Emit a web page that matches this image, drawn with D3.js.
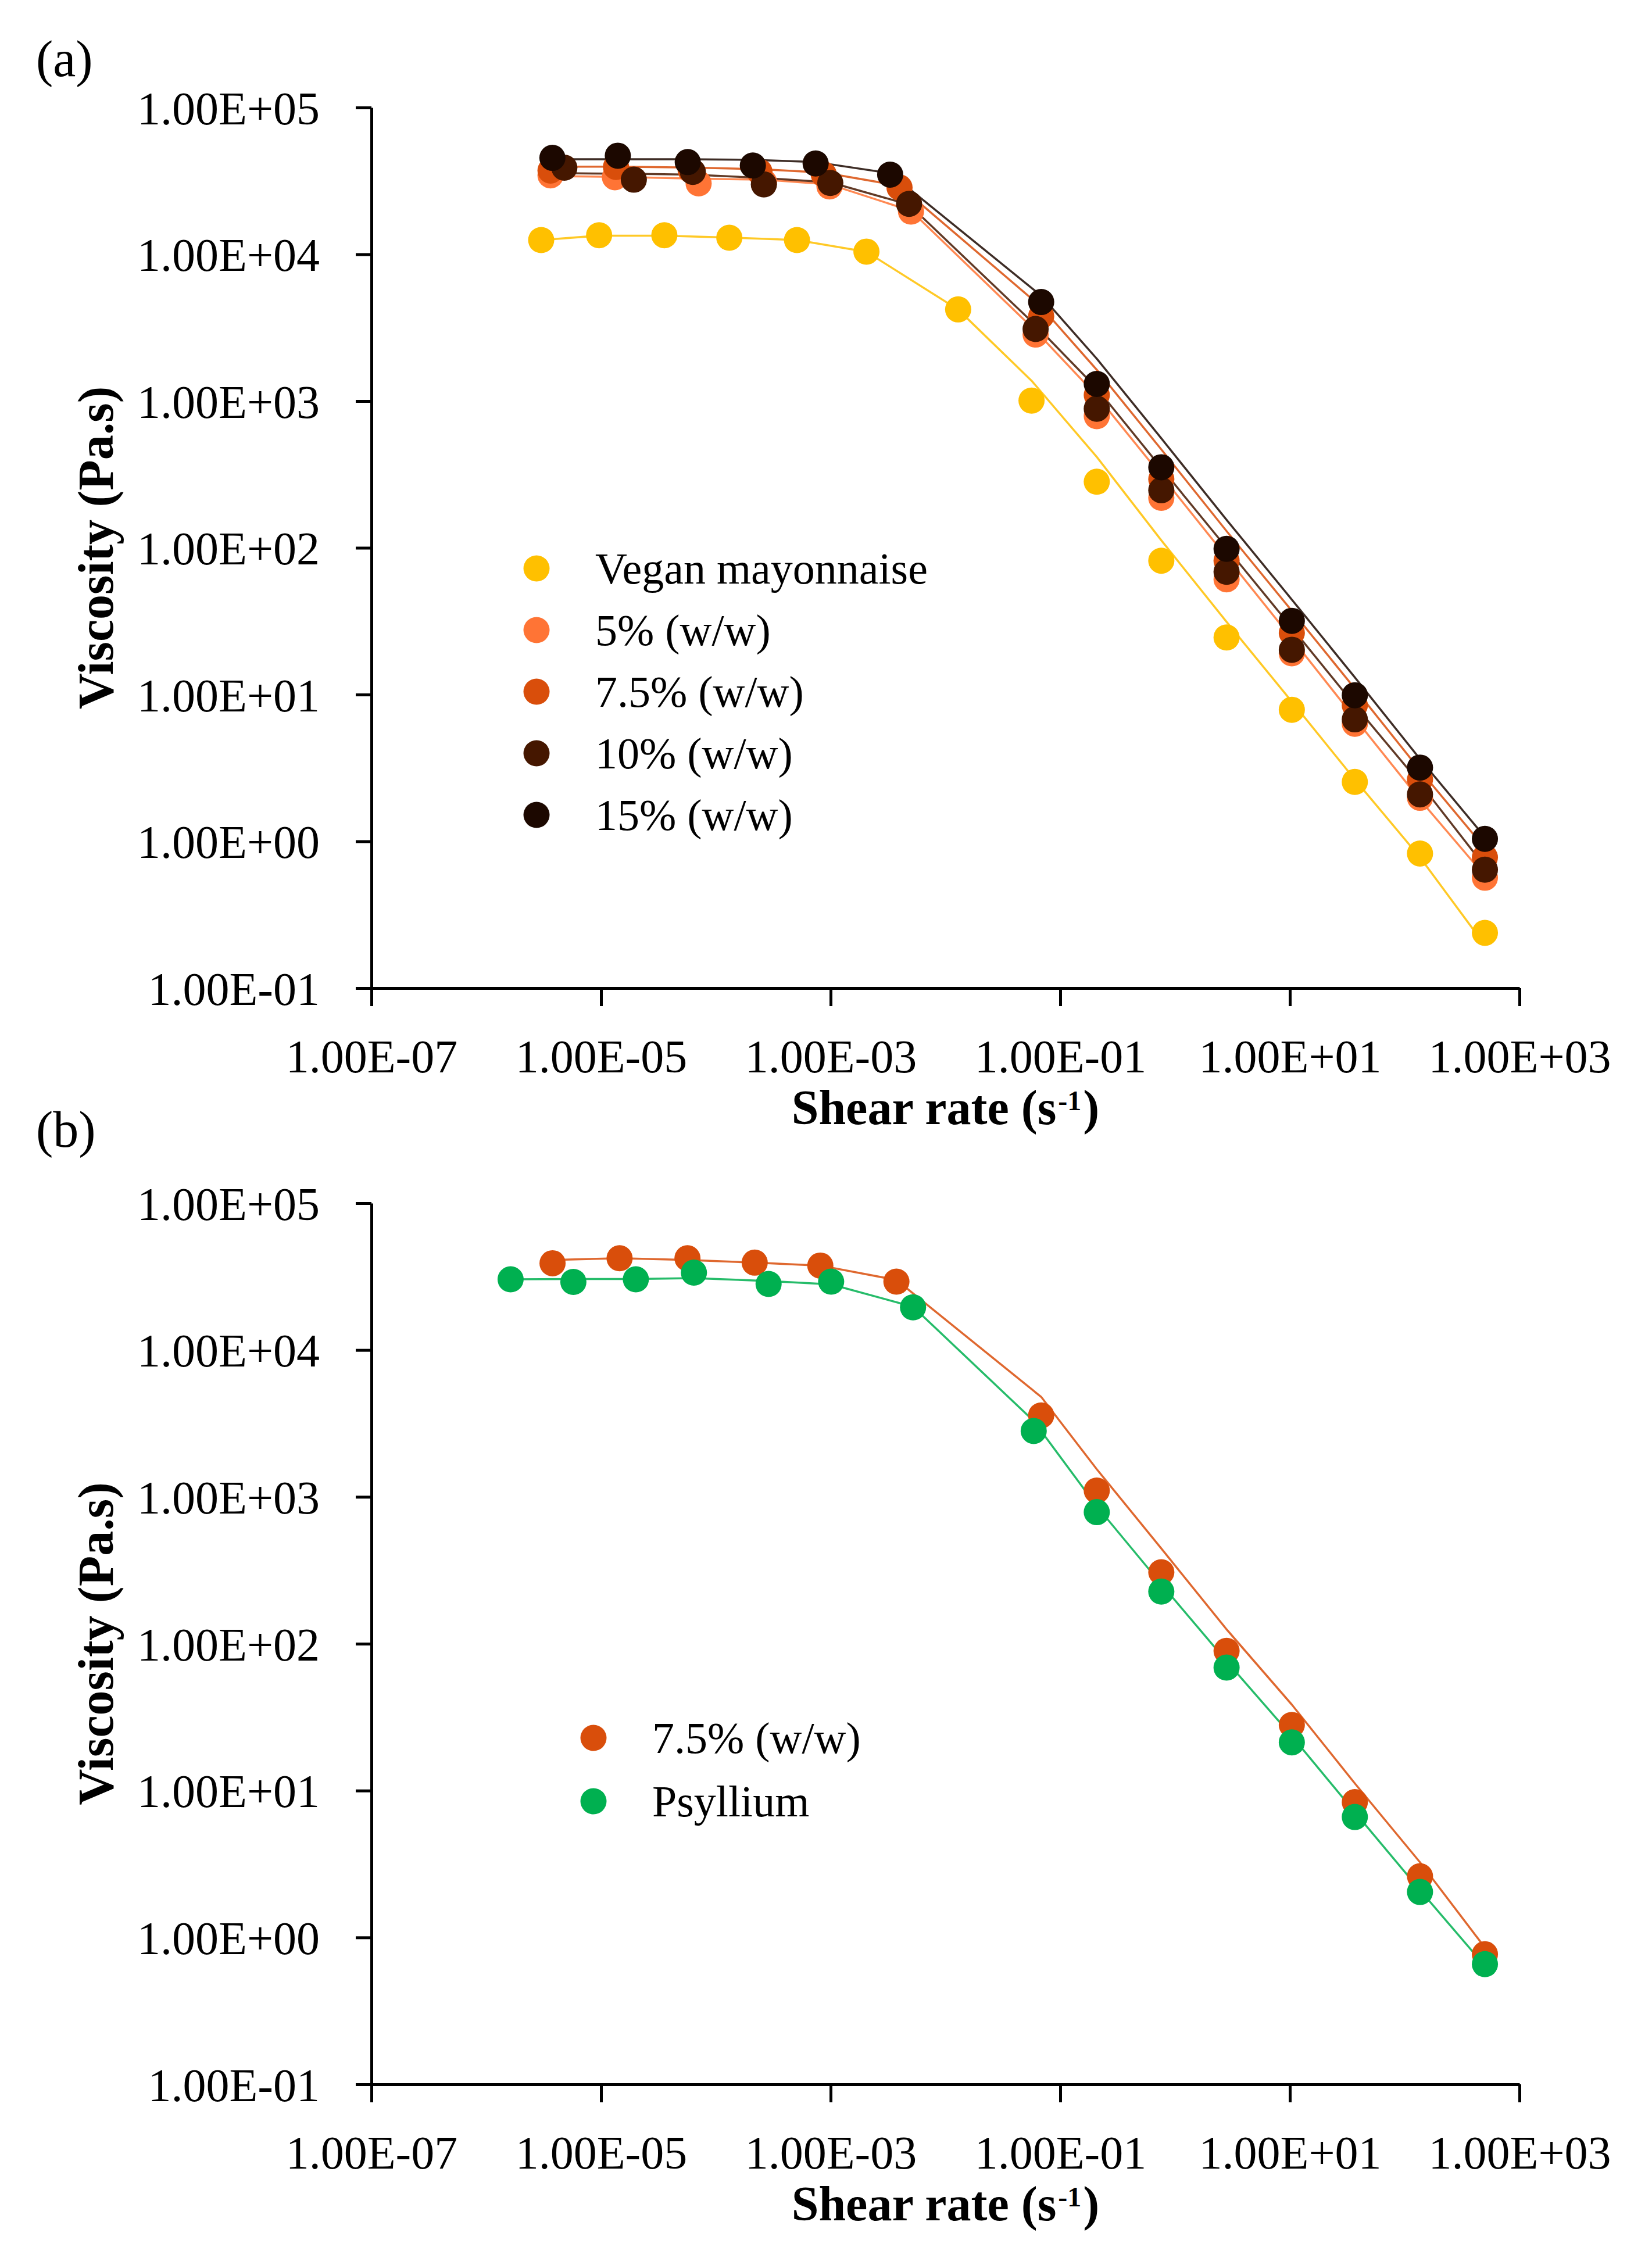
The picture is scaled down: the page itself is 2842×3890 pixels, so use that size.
<!DOCTYPE html>
<html>
<head>
<meta charset="utf-8">
<script src="https://cdn.jsdelivr.net/npm/d3@7/dist/d3.min.js"></script>
<style>
  html, body { margin: 0; padding: 0; background: #fff; }
  svg { display: block; }
  text { font-family: "Palatino Linotype", "Book Antiqua", Palatino, "Liberation Serif", serif; fill: #000; }
</style>
</head>
<body>
<div id="chart"></div>
<script>
// ---- tick values and labels (both panels share the same axes) ----
var xTicks = [1e-7, 1e-5, 1e-3, 1e-1, 1e1, 1e3];
var xTickLabels = ["1.00E-07", "1.00E-05", "1.00E-03", "1.00E-01", "1.00E+01", "1.00E+03"];
var yTicks = [1e-1, 1e0, 1e1, 1e2, 1e3, 1e4, 1e5];
var yTickLabels = ["1.00E-01", "1.00E+00", "1.00E+01", "1.00E+02", "1.00E+03", "1.00E+04", "1.00E+05"];

// ---- panel (a): vegan mayonnaise and the four concentrations ----
var shearVegan = [3.01e-6, 9.62e-6, 3.56e-5, 1.31e-4, 5.09e-4, 2.05e-3, 1.29e-2, 5.62e-2, 0.208, 0.759, 2.81, 10.4, 36.8, 136, 500];
var etaVegan = [12500, 13490, 13490, 12970, 12500, 10430, 4210, 1007, 282, 81.7, 24.5, 7.88, 2.54, 0.826, 0.238];
var fitVegan = [12500, 13400, 13400, 13000, 12500, 10400, 4200, 1377, 416, 112.5, 31.3, 8.96, 2.64, 0.778, 0.196];

var shear5 = [3.63e-6, 1.32e-5, 7.08e-5, 2.63e-4, 9.77e-4, 5.01e-3, 6.10e-2, 0.208, 0.759, 2.81, 10.4, 36.8, 136, 500];
var eta5 = [34500, 33500, 30400, 31000, 29000, 19550, 2838, 789, 219, 61, 19.1, 6.33, 1.98, 0.565];
var fit5 = [34100, 33700, 32700, 32300, 29950, 19800, 3006, 1087, 311, 86.5, 24.1, 6.90, 1.92, 0.582];

var shear75 = [3.63e-6, 1.35e-5, 6.03e-5, 2.40e-4, 8.71e-4, 3.98e-3, 6.82e-2, 0.208, 0.759, 2.81, 10.4, 36.8, 136, 500];
var eta75 = [37200, 39400, 37500, 36500, 35000, 28500, 3790, 1100, 294, 81.7, 26.3, 8.45, 2.64, 0.778];
var fit75 = [39500, 39500, 39000, 38000, 36000, 29300, 4385, 1633, 468, 130, 37.2, 11.0, 3.05, 0.90];

var shear10 = [4.79e-6, 1.93e-5, 6.30e-5, 2.62e-4, 9.93e-4, 4.82e-3, 6.10e-2, 0.208, 0.759, 2.81, 10.4, 36.8, 136, 500];
var eta10 = [38900, 32250, 36440, 29940, 30620, 22070, 3097, 887, 247, 68.6, 20.2, 6.78, 2.09, 0.641];
var fit10 = [35650, 35400, 34900, 33100, 30900, 21800, 3281, 1222, 350, 100, 28.6, 8.45, 2.49, 0.673];

var shear15 = [3.77e-6, 1.40e-5, 5.69e-5, 2.10e-4, 7.40e-4, 3.30e-3, 6.82e-2, 0.208, 0.759, 2.81, 10.4, 36.8, 136, 500];
var eta15 = [45400, 46950, 42490, 40290, 41560, 34900, 4730, 1309, 354, 98.4, 31.8, 9.89, 3.18, 1.04];
var fit15 = [44400, 44400, 44400, 43990, 42490, 35660, 5220, 1945, 557, 155, 44.4, 13.1, 3.64, 1.07];

// ---- panel (b): 7.5% against psyllium ----
var shearB75 = [3.78e-6, 1.45e-5, 5.66e-5, 2.18e-4, 8.13e-4, 3.74e-3, 6.82e-2, 0.208, 0.759, 2.81, 10.4, 36.8, 136, 500];
var etaB75 = [38970, 42150, 42150, 39350, 37580, 29220, 3587, 1103, 307, 89.4, 28.0, 8.34, 2.61, 0.769];
var fitB75 = [41050, 42150, 41050, 39350, 37580, 29980, 4797, 1543, 445, 125.3, 38.5, 11.2, 3.25, 0.853];

var shearPsy = [1.63e-6, 5.74e-6, 2.01e-5, 6.44e-5, 2.88e-4, 1.01e-3, 5.22e-3, 5.87e-2, 0.208, 0.759, 2.81, 10.4, 36.8, 136, 500];
var etaPsy = [30290, 29080, 30290, 33650, 28170, 29220, 19530, 2810, 787, 226.6, 68.8, 21.3, 6.61, 2.04, 0.658];
var fitPsy = [30290, 30460, 30460, 30830, 29510, 27990, 19710, 3289, 863, 254.5, 76.0, 23.5, 7.13, 2.10, 0.640];

(function () {
  "use strict";
  var W = 2842, H = 3890;
  var svg = d3.select("#chart").append("svg")
    .attr("width", W).attr("height", H).attr("viewBox", "0 0 " + W + " " + H);

  var C = { veg: "#FFC000", p5: "#FF7435", p75: "#D94E0B", p10: "#451700", p15: "#1C0800", psy: "#00B050" };

  var panels = [
    { label: "(a)", labelY: 131, top: 185, bottom: 1700,
      legend: { x: 923, y: 978, step: 106 },
      series: [
        { name: "Vegan mayonnaise", color: C.veg, x: shearVegan, y: etaVegan, fit: fitVegan },
        { name: "5% (w/w)", color: C.p5, x: shear5, y: eta5, fit: fit5 },
        { name: "7.5% (w/w)", color: C.p75, x: shear75, y: eta75, fit: fit75 },
        { name: "10% (w/w)", color: C.p10, x: shear10, y: eta10, fit: fit10 },
        { name: "15% (w/w)", color: C.p15, x: shear15, y: eta15, fit: fit15 }
      ] },
    { label: "(b)", labelY: 1973, top: 2070, bottom: 3586,
      legend: { x: 1021, y: 2990, step: 109 },
      series: [
        { name: "7.5% (w/w)", color: C.p75, x: shearB75, y: etaB75, fit: fitB75 },
        { name: "Psyllium", color: C.psy, x: shearPsy, y: etaPsy, fit: fitPsy }
      ] }
  ];

  var L = 639, R = 2614;

  panels.forEach(function (p) {
    var x = d3.scaleLog().domain([1e-7, 1e3]).range([L, R]);
    var y = d3.scaleLog().domain([1e-1, 1e5]).range([p.bottom, p.top]);
    var g = svg.append("g");

    g.append("text").attr("x", 62).attr("y", p.labelY).attr("font-size", 88).text(p.label);

    // axes
    var yAxis = d3.axisLeft(y).tickValues(yTicks).tickSize(27).tickSizeOuter(0).tickPadding(62)
      .tickFormat(function (d, i) { return yTickLabels[i]; });
    var ya = g.append("g").attr("transform", "translate(" + L + ",0)").call(yAxis);
    var xAxis = d3.axisBottom(x).tickValues(xTicks).tickSize(31).tickSizeOuter(0)
      .tickFormat(function (d, i) { return xTickLabels[i]; });
    var xa = g.append("g").attr("transform", "translate(0," + p.bottom + ")").call(xAxis);
    [ya, xa].forEach(function (a) {
      a.select(".domain").attr("stroke", "#000").attr("stroke-width", 5);
      a.selectAll(".tick line").attr("stroke", "#000").attr("stroke-width", 5);
      a.selectAll(".tick text").attr("font-size", 80).attr("fill", "#000")
        .attr("font-family", "\"Palatino Linotype\", \"Book Antiqua\", Palatino, \"Liberation Serif\", serif");
    });
    ya.selectAll(".tick text").attr("dy", "0.35em");
    xa.selectAll(".tick text").attr("y", 145).attr("dy", 0);

    // axis titles
    g.append("text").attr("transform", "translate(194," + ((p.top + p.bottom) / 2) + ") rotate(-90)")
      .attr("text-anchor", "middle").attr("font-size", 86).attr("font-weight", "bold").text("Viscosity (Pa.s)");
    var xt = g.append("text").attr("x", (L + R) / 2).attr("y", p.bottom + 234)
      .attr("text-anchor", "middle").attr("font-size", 84).attr("font-weight", "bold");
    xt.append("tspan").text("Shear rate (s");
    xt.append("tspan").attr("font-size", 48).attr("dx", 3).attr("dy", -24).text("-1");
    xt.append("tspan").attr("dx", 3).attr("dy", 24).text(")");

    // fit lines first, then markers in series order (later series on top)
    var line = d3.line().x(function (d) { return x(d[0]); }).y(function (d) { return y(d[1]); });
    p.series.forEach(function (s) {
      g.append("path").attr("d", line(d3.zip(s.x, s.fit))).attr("fill", "none")
        .attr("stroke", s.color).attr("stroke-width", 3.5).attr("stroke-opacity", 0.85)
        .attr("stroke-linejoin", "round");
    });
    p.series.forEach(function (s) {
      g.append("g").selectAll("circle").data(d3.zip(s.x, s.y)).join("circle")
        .attr("cx", function (d) { return x(d[0]); }).attr("cy", function (d) { return y(d[1]); })
        .attr("r", 22.5).attr("fill", s.color);
    });

    // legend
    var lg = g.append("g");
    p.series.forEach(function (s, i) {
      var cy = p.legend.y + i * p.legend.step;
      lg.append("circle").attr("cx", p.legend.x).attr("cy", cy).attr("r", 22.5).attr("fill", s.color);
      lg.append("text").attr("x", p.legend.x + 101).attr("y", cy).attr("dy", "0.34em")
        .attr("font-size", 76).text(s.name);
    });
  });
})();
</script>
</body>
</html>
